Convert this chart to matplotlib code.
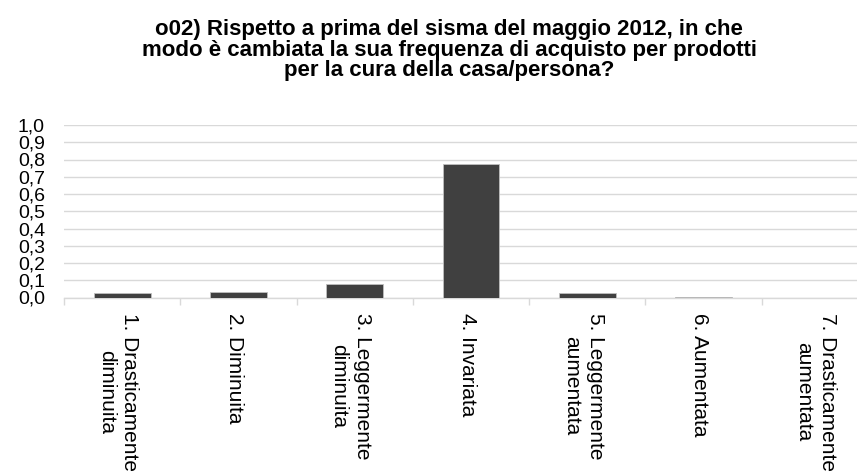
import matplotlib
matplotlib.use("Agg")
import matplotlib.pyplot as plt
import matplotlib.transforms as mtransforms
import numpy as np

categories = ["1. Drasticamente\ndiminuita", "2. Diminuita", "3. Leggermente\ndiminuita",
              "4. Invariata", "5. Leggermente\naumentata", "6. Aumentata",
              "7. Drasticamente\naumentata"]
values = [0.024, 0.034, 0.078, 0.774, 0.028, 0.005, 0.0]
yticks = [0.0, 0.1, 0.2, 0.3, 0.4, 0.5, 0.6, 0.7, 0.8, 0.9, 1.0]
ytick_labels = ["0,0", "0,1", "0,2", "0,3", "0,4", "0,5", "0,6", "0,7", "0,8", "0,9", "1,0"]
title = ("o02) Rispetto a prima del sisma del maggio 2012, in che\n"
         "modo è cambiata la sua frequenza di acquisto per prodotti\n"
         "per la cura della casa/persona?")

plt.rcParams['font.family'] = ['Liberation Sans', 'DejaVu Sans']

fig = plt.figure(figsize=(8.57, 4.76), dpi=100)
W, H = 857, 476
left, right, bottom, top = 64, 878, 297.5, 125
ax = fig.add_axes([left / W, 1 - bottom / H, (right - left) / W, (bottom - top) / H])

x = np.arange(len(categories))
ax.bar(x, values, width=0.49, color="#404040", edgecolor="#bfbfbf", linewidth=0.6, zorder=3)

ax.set_xlim(-0.5, len(categories) - 0.5)
ax.set_ylim(0, 1.0)
ax.set_yticks(yticks)
ax.set_yticklabels(ytick_labels, fontsize=14)
ax.tick_params(axis='y', length=0, pad=13.7)
ax.yaxis.grid(True, color="#d9d9d9", linewidth=1.0, zorder=0)
ax.set_axisbelow(True)

ax.set_xticks(x)
ax.set_xticklabels(categories, fontsize=15, rotation=-90, ha='center', va='top',
                   multialignment='center', linespacing=1.3)
ax.tick_params(axis='x', which='major', length=0, pad=11)
ax.set_xticks(np.arange(-0.5, len(categories), 1.0), minor=True)
ax.tick_params(axis='x', which='minor', length=5, color="#d9d9d9", width=1.0)
offset = mtransforms.ScaledTranslation(-4 / 100, 0, fig.dpi_scale_trans)
for lbl in ax.get_xticklabels():
    lbl.set_transform(lbl.get_transform() + offset)

for s in ['top', 'right', 'left']:
    ax.spines[s].set_visible(False)
ax.spines['bottom'].set_color("#d9d9d9")
ax.spines['bottom'].set_linewidth(1.0)

fig.text(449 / W, 1 - 19 / H, title, ha='center', va='top', fontsize=16,
         fontweight='bold', linespacing=0.98)

fig.savefig("out.png", dpi=100)
